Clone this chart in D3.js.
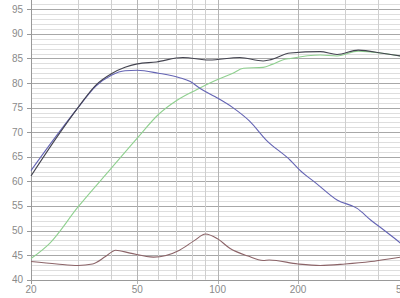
<!DOCTYPE html>
<html><head><meta charset="utf-8">
<script src="https://cdn.jsdelivr.net/npm/d3@7"></script>
<style>html,body{margin:0;padding:0;background:#fff;overflow:hidden}svg{display:block}</style>
</head><body>
<svg id="c" width="400" height="298"></svg>
<script>
const xTickLabels = [20, 50, 100, 200, 500];
const yTickLabels = [40, 45, 50, 55, 60, 65, 70, 75, 80, 85, 90, 95];
const xGrid = [20,30,40,50,60,70,80,90,100,200,300,400,500];

const totalF = [20,25,30,35,40,45,50,59,74,93,121,148,156,187,242,280,336,420,485,500];
const totalV = [61.1,69.0,75.0,79.6,81.9,83.2,83.9,84.3,85.2,84.7,85.2,84.5,84.7,86.1,86.4,85.8,86.7,86.0,85.5,85.4];

const lowF = [20,25,30,35,40,45,50,60,72,79,86,98,114,132,152,187,203,234,280,333,375,419,485,500];
const lowV = [62.2,69.4,75.0,79.4,81.6,82.5,82.6,82.0,81.1,80.3,78.9,77.2,75.0,72.2,68.4,64.3,62.3,59.6,56.2,54.5,52.1,50.1,47.4,46.8];

const highF = [20,23.5,30,40,50,60,70,83,98,114,125,148,160,175,187,242,280,336,420,485,500];
const highV = [44.3,47.4,54.8,62.7,68.8,73.6,76.4,78.6,80.5,82.0,83.0,83.2,83.8,84.7,85.0,85.7,85.5,86.5,86.0,85.5,85.4];

const impF = [20,25,30,34,38,41.5,47,57.5,72,82,90,100,111,130,148,156,200,242,300,375,485,500];
const impV = [43.7,43.2,42.9,43.2,44.7,46.0,45.4,44.6,46.0,48.0,49.3,48.3,46.4,44.8,43.9,44.0,43.2,42.9,43.2,43.7,44.6,44.7];

const svg = d3.select("#c");
const x = d3.scaleLog().domain([20, 500]).range([31, 404.3]);
const y = d3.scaleLinear().domain([40, 97]).range([279.7, 279.7 - 57*4.916]);

const g = svg.append("g");
// minor horizontal grid
g.selectAll("line.hmin").data(d3.range(41, 98)).enter().append("line")
  .attr("x1", 31).attr("x2", 400).attr("y1", d => Math.round(y(d))+0.5).attr("y2", d => Math.round(y(d))+0.5)
  .attr("stroke", d => d % 5 === 0 ? "#a8a8a8" : "#dedede").attr("stroke-width", 1);
// vertical grid
g.selectAll("line.v").data(xGrid).enter().append("line")
  .attr("x1", d => Math.round(x(d))+0.5).attr("x2", d => Math.round(x(d))+0.5)
  .attr("y1", 0).attr("y2", d => xTickLabels.includes(d) ? 284 : y(40))
  .attr("stroke", d => xTickLabels.includes(d) ? "#b4b4b4" : "#cfcfcf").attr("stroke-width", 1);
// axes lines
g.append("line").attr("x1", 31.5).attr("x2", 31.5).attr("y1", 0).attr("y2", 284).attr("stroke", "#999");
g.append("line").attr("x1", 27).attr("x2", 400).attr("y1", Math.round(y(40))+0.5).attr("y2", Math.round(y(40))+0.5).attr("stroke", "#999");
// y ticks
g.selectAll("line.yt").data(yTickLabels).enter().append("line")
  .attr("x1", 27).attr("x2", 31).attr("y1", d => Math.round(y(d))+0.5).attr("y2", d => Math.round(y(d))+0.5).attr("stroke", "#999");
g.selectAll("text.yl").data(yTickLabels).enter().append("text")
  .attr("x", 23).attr("y", d => y(d)).attr("dy", "0.35em").attr("text-anchor", "end")
  .attr("font-family", "Liberation Sans, Arial, sans-serif").attr("font-size", 10).attr("fill", "#8a8a8a")
  .text(d => d);
g.selectAll("text.xl").data(xTickLabels).enter().append("text")
  .attr("x", d => x(d)).attr("y", 289).attr("dy", "0.35em").attr("text-anchor", "middle")
  .attr("font-family", "Liberation Sans, Arial, sans-serif").attr("font-size", 10).attr("fill", "#8a8a8a")
  .text(d => d);

const line = d3.line().x(d => x(d[0])).y(d => y(d[1])).curve(d3.curveMonotoneX);
function draw(F, V, color, w) {
  svg.append("path").datum(F.map((f, i) => [f, V[i]]))
    .attr("d", line).attr("fill", "none").attr("stroke", color).attr("stroke-width", w);
}
draw(impF, impV, "#8c6468", 1.1);
draw(highF, highV, "#8fd08f", 1.1);
draw(lowF, lowV, "#6464b4", 1.1);
draw(totalF, totalV, "#444450", 1.1);
</script>
</body></html>
